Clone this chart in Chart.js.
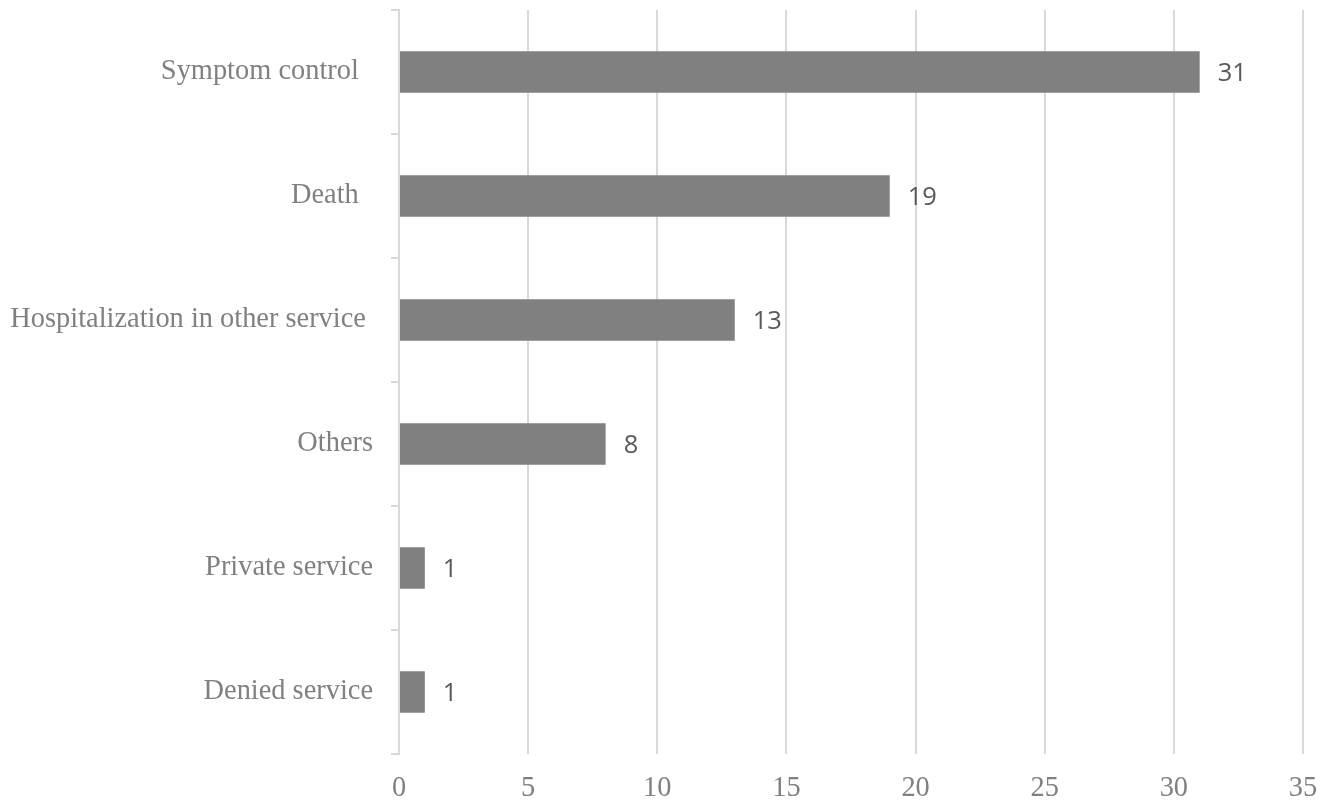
<!DOCTYPE html>
<html>
<head>
<meta charset="utf-8">
<script src="https://cdn.jsdelivr.net/npm/chart.js@4/dist/chart.umd.min.js"></script>
<style>
html,body{margin:0;padding:0;background:#fff;}
#wrap{width:1331px;height:800px;position:relative;}
</style>
</head>
<body>
<div id="wrap"><canvas id="c" width="1331" height="800"></canvas></div>
<script>
const categories = ["Symptom control  ", "Death  ", "Hospitalization in other service ", "Others", "Private service", "Denied service"];
const values = [31, 19, 13, 8, 1, 1];
const xTicks = [0, 5, 10, 15, 20, 25, 30, 35];

const valueLabels = {
  id: 'valueLabels',
  afterDatasetsDraw(chart) {
    const ctx = chart.ctx;
    const meta = chart.getDatasetMeta(0);
    ctx.save();
    ctx.font = '25.5px "Open Sans", "Liberation Sans", sans-serif';
    ctx.fillStyle = '#595959';
    ctx.textAlign = 'left';
    ctx.textBaseline = 'middle';
    meta.data.forEach((bar, i) => {
      ctx.fillText(String(values[i]), bar.x + 18, bar.y + 2);
    });
    ctx.restore();
  }
};

new Chart(document.getElementById('c'), {
  type: 'bar',
  data: {
    labels: categories,
    datasets: [{
      data: values,
      backgroundColor: '#808080',
      borderWidth: 0,
      categoryPercentage: 1,
      barPercentage: 0.335
    }]
  },
  options: {
    indexAxis: 'y',
    responsive: false,
    animation: false,
    layout: { padding: { top: 10, right: 28, left: 0, bottom: 0 } },
    plugins: { legend: { display: false }, tooltip: { enabled: false } },
    scales: {
      x: {
        min: 0, max: 35,
        afterBuildTicks(scale) { scale.ticks = xTicks.map(v => ({ value: v })); },
        afterFit(scale) { scale.height = 46; scale.paddingLeft = 0; scale.paddingRight = 0; },
        grid: { color: '#d9d9d9', lineWidth: 2, drawTicks: false },
        border: { display: false },
        ticks: {
          color: '#808080',
          padding: 18,
          font: { family: '"Liberation Serif", "Times New Roman", serif', size: 28.4 }
        }
      },
      y: {
        afterFit(scale) { scale.width = 399; scale.paddingTop = 0; scale.paddingBottom = 0; },
        grid: { drawOnChartArea: false, drawTicks: true, tickLength: 8, offset: true, color: '#d9d9d9', lineWidth: 2 },
        border: { display: true, color: '#d9d9d9', width: 2 },
        ticks: {
          color: '#808080',
          padding: 18,
          font: { family: '"Liberation Serif", "Times New Roman", serif', size: 28.4 }
        }
      }
    }
  },
  plugins: [valueLabels]
});
</script>
</body>
</html>
